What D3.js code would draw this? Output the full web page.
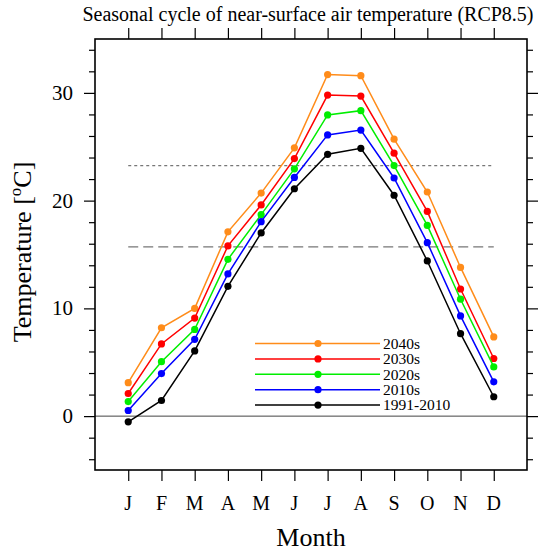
<!DOCTYPE html>
<html lang="en">
<head>
<meta charset="UTF-8">
<title>Seasonal cycle</title>
<script src="https://d3js.org/d3.v7.min.js"></script>
<style>
  body { margin:0; background:#fff; }
  svg { display:block; }
  text { font-family: "Liberation Serif", "Times New Roman", serif; fill:#000; }
</style>
</head>
<body>
<svg id="chart" width="541" height="551"></svg>
<script>

// months and series (degC)
var months = ["J","F","M","A","M","J","J","A","S","O","N","D"];
var seriesNames = ["2040s","2030s","2020s","2010s","1991-2010"];
var seriesColors = ["#ff8c1a","#ff0000","#00ee00","#0000ff","#000000"];
var t2040 = [3.1, 8.2, 10.0, 17.1, 20.7, 24.9, 31.7, 31.6, 25.7, 20.8, 13.8, 7.35];
var t2030 = [2.1, 6.7, 9.1, 15.8, 19.6, 23.9, 29.8, 29.7, 24.4, 19.0, 11.8, 5.35];
var t2020 = [1.35, 5.05, 8.05, 14.55, 18.7, 22.95, 27.95, 28.35, 23.25, 17.7, 10.85, 4.57];
var t2010 = [0.52, 3.95, 7.13, 13.2, 18.05, 22.15, 26.1, 26.55, 22.1, 16.1, 9.3, 3.18];
var tBase = [-0.53, 1.45, 6.05, 12.05, 17.0, 21.1, 24.3, 24.85, 20.5, 14.4, 7.65, 1.8];
var series = [t2040, t2030, t2020, t2010, tBase];

// reference levels
var dottedLevel = 23.25;
var dashedLevel = 15.7;

var yMajor = [0, 10, 20, 30];
var yMinor = d3.range(-4, 35, 2).filter(function(v){ return v % 10 !== 0; });

var svg = d3.select("#chart");
var pLeft = 95, pRight = 527, pTop = 39, pBottom = 470;

var x = d3.scalePoint().domain(d3.range(12)).range([pLeft, pRight]).padding(1);
var y = d3.scaleLinear().domain([-5, 35]).range([pBottom, pTop]);

// reference lines
svg.append("line")
  .attr("x1", x(0)).attr("x2", x(11))
  .attr("y1", y(dottedLevel)).attr("y2", y(dottedLevel))
  .attr("stroke", "#777").attr("stroke-width", 1.3)
  .attr("stroke-dasharray", "3,3");
svg.append("line")
  .attr("x1", x(0)).attr("x2", x(11))
  .attr("y1", y(dashedLevel)).attr("y2", y(dashedLevel))
  .attr("stroke", "#777").attr("stroke-width", 1.3)
  .attr("stroke-dasharray", "10,5");

// zero line
svg.append("line")
  .attr("x1", pLeft).attr("x2", pRight)
  .attr("y1", y(0)).attr("y2", y(0))
  .attr("stroke", "#444").attr("stroke-width", 1);

// axes: ticks outward on all four sides
function ticks(axis, vals, size, g) {
  g.call(axis.tickValues(vals).tickSize(size).tickFormat(""))
   .call(function(s){ s.select(".domain").remove(); })
   .selectAll("line").attr("stroke", "#000").attr("stroke-width", 1.2);
}
var gB = svg.append("g").attr("transform", "translate(0," + pBottom + ")");
ticks(d3.axisBottom(x), d3.range(12), 11, gB);
var gT = svg.append("g").attr("transform", "translate(0," + pTop + ")");
ticks(d3.axisTop(x), d3.range(12), 11, gT);
var gL = svg.append("g").attr("transform", "translate(" + pLeft + ",0)");
ticks(d3.axisLeft(y), yMajor, 11, gL);
var gL2 = svg.append("g").attr("transform", "translate(" + pLeft + ",0)");
ticks(d3.axisLeft(y), yMinor, 6, gL2);
var gR = svg.append("g").attr("transform", "translate(" + pRight + ",0)");
ticks(d3.axisRight(y), yMajor, 11, gR);
var gR2 = svg.append("g").attr("transform", "translate(" + pRight + ",0)");
ticks(d3.axisRight(y), yMinor, 6, gR2);

// tick labels
svg.append("g").selectAll("text").data(months).enter().append("text")
  .attr("x", function(d, i){ return x(i); })
  .attr("y", 510)
  .attr("text-anchor", "middle")
  .style("font-size", "20px")
  .text(function(d){ return d; });
svg.append("g").selectAll("text").data(yMajor).enter().append("text")
  .attr("x", 73)
  .attr("y", function(d){ return y(d) + 7; })
  .attr("text-anchor", "end")
  .style("font-size", "21px")
  .text(function(d){ return d; });

// frame
svg.append("rect")
  .attr("x", pLeft).attr("y", pTop)
  .attr("width", pRight - pLeft).attr("height", pBottom - pTop)
  .attr("fill", "none").attr("stroke", "#000").attr("stroke-width", 1.6);

// series lines and markers
var line = d3.line()
  .x(function(d, i){ return x(i); })
  .y(function(d){ return y(d); });

series.forEach(function(vals, k) {
  var g = svg.append("g");
  g.append("path").datum(vals)
    .attr("d", line)
    .attr("fill", "none")
    .attr("stroke", seriesColors[k])
    .attr("stroke-width", 1.5);
  g.selectAll("circle").data(vals).enter().append("circle")
    .attr("cx", function(d, i){ return x(i); })
    .attr("cy", function(d){ return y(d); })
    .attr("r", 3.6)
    .attr("fill", seriesColors[k]);
});

// legend
var leg = svg.append("g");
seriesNames.forEach(function(name, k) {
  var ly = 343.5 + k * 15.4;
  leg.append("line")
    .attr("x1", 255).attr("x2", 380)
    .attr("y1", ly).attr("y2", ly)
    .attr("stroke", seriesColors[k]).attr("stroke-width", 1.5);
  leg.append("circle")
    .attr("cx", 318).attr("cy", ly).attr("r", 3.6)
    .attr("fill", seriesColors[k]);
  leg.append("text")
    .attr("x", 383).attr("y", ly + 5.2)
    .style("font-size", "15.5px")
    .text(name);
});

// title and axis titles
svg.append("text")
  .attr("x", 308).attr("y", 21)
  .attr("text-anchor", "middle")
  .style("font-size", "20px")
  .text("Seasonal cycle of near-surface air temperature (RCP8.5)");

svg.append("text")
  .attr("x", 311).attr("y", 546)
  .attr("text-anchor", "middle")
  .style("font-size", "26px")
  .text("Month");

var yl = svg.append("text")
  .attr("transform", "translate(31,252) rotate(-90)")
  .attr("text-anchor", "middle")
  .style("font-size", "26px");
yl.append("tspan").text("Temperature [");
yl.append("tspan").attr("dy", -10).style("font-size", "17px").text("o");
yl.append("tspan").attr("dy", 10).text("C]");

</script>
</body>
</html>
